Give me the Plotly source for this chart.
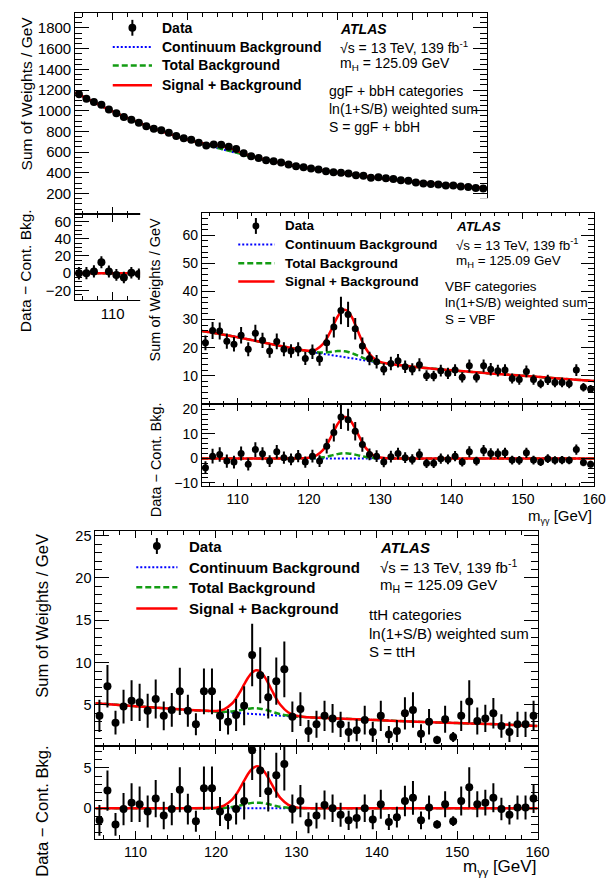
import plotly.graph_objects as go

W, H = 614, 880
FONT = "Liberation Sans"

# ---------------------------------------------------------------------------
# Binned diphoton mass spectra (1 GeV bins from 105 to 160 GeV)
# ---------------------------------------------------------------------------
bin_centres = [105.5 + i for i in range(55)]

# ggF + bbH categories
ggf_data = [1160, 1115, 1084, 1058, 1013, 975, 940, 914, 885, 850,
            825, 812, 786, 755, 735, 719, 690, 665, 674, 671,
            652, 629, 588, 559, 543, 521, 511, 499, 480, 463,
            454, 441, 432, 415, 406, 400, 393, 377, 371, 352,
            358, 348, 339, 329, 323, 307, 297, 291, 288, 278,
            278, 268, 262, 252, 249]
ggf_err = [7.0, 6.9, 6.8, 6.7, 6.6, 6.5, 6.4, 6.3, 6.2, 6.1,
           6.0, 5.9, 5.8, 5.7, 5.6, 5.5, 5.4, 5.3, 5.3, 5.3,
           5.2, 5.1, 5.0, 4.9, 4.8, 4.7, 4.7, 4.6, 4.5, 4.4,
           4.4, 4.3, 4.3, 4.2, 4.1, 4.1, 4.0, 4.0, 3.9, 3.8,
           3.8, 3.8, 3.7, 3.7, 3.6, 3.6, 3.5, 3.5, 3.5, 3.4,
           3.4, 3.4, 3.3, 3.3, 3.3]
# only the low-mass end of the ggF residual pad is left uncovered
ggf_res = [0.0, 0.0, 2.0, 12.6, 2.0, -2.0, -5.0, 0.5, -1.0]
ggf_res_err = [7.3, 7.2, 7.1, 7.0, 6.9, 6.8, 6.7, 6.6, 6.5]

# VBF categories
vbf_data = [21.7, 26.1, 25.9, 22.3, 21.2, 24.4, 19.4, 25.1, 22.6, 18.8,
            22.2, 19.4, 18.8, 19.4, 16.1, 18.5, 15.9, 21.7, 27.3, 33.2,
            31.8, 26.7, 20.6, 16.1, 15.0, 12.3, 14.3, 15.3, 13.2, 12.3,
            13.9, 10.0, 9.9, 11.8, 10.8, 12.0, 9.4, 13.5, 9.4, 13.5,
            12.3, 11.8, 12.0, 9.0, 8.6, 11.5, 8.6, 7.1, 8.5, 7.6,
            7.6, 7.1, 12.0, 5.9, 5.3]
vbf_err = [2.6, 3.0, 3.0, 2.7, 2.6, 2.9, 2.5, 3.0, 2.7, 2.4,
           2.8, 2.5, 2.4, 2.5, 2.3, 2.6, 2.4, 3.0, 3.7, 4.9,
           4.5, 3.8, 3.0, 2.4, 2.4, 2.1, 2.4, 2.4, 2.2, 2.1,
           2.3, 1.9, 1.9, 2.1, 2.0, 2.1, 1.8, 2.3, 1.8, 2.3,
           2.2, 2.1, 2.1, 1.8, 1.8, 2.1, 1.8, 1.6, 1.8, 1.7,
           1.7, 1.6, 2.1, 1.5, 1.4]
vbf_res = [-3.8, 0.9, 1.6, -1.1, -1.5, 2.0, -2.4, 3.6, 1.9, -1.1,
           2.7, 0.3, -0.4, 0.9, -1.5, 0.9, -1.1, 5.0, 10.6, 16.9,
           15.8, 11.1, 5.7, 1.6, 0.9, -1.5, 0.7, 2.0, 0.3, -0.4,
           1.6, -2.0, -2.0, -0.1, -0.4, 0.9, -1.5, 2.7, -1.1, 3.2,
           2.0, 1.9, 2.3, -0.7, -0.8, 2.3, -0.7, -1.5, -0.1, -0.8,
           -0.7, -0.8, 3.6, -1.7, -2.4]

# ttH categories
tth_data = [3.7, 7.2, 2.9, 4.8, 5.5, 5.3, 4.3, 5.7, 3.7, 4.4,
            6.6, 4.3, 2.7, 6.6, 6.6, 3.7, 3.0, 3.8, 4.9, 10.9,
            8.5, 5.9, 7.8, 9.2, 3.6, 4.5, 1.9, 2.7, 3.7, 3.4,
            2.7, 1.8, 2.0, 3.2, 1.8, 3.7, 1.5, 1.9, 4.0, 4.4,
            1.6, 3.0, 0.86, 3.3, 1.2, 3.7, 5.4, 3.1, 3.4, 4.0,
            2.5, 1.8, 2.7, 2.7, 3.7]
tth_err = [1.9, 2.5, 1.4, 2.0, 2.4, 2.2, 2.0, 2.3, 1.7, 2.0,
           2.8, 1.9, 1.3, 2.7, 2.7, 1.8, 1.5, 1.9, 2.3, 3.7,
           3.3, 2.5, 2.8, 3.3, 1.8, 2.0, 1.3, 1.6, 1.8, 1.7,
           1.5, 1.2, 1.3, 1.7, 1.2, 1.8, 1.0, 1.3, 1.9, 2.1,
           1.1, 1.5, 0.5, 1.6, 0.6, 1.8, 2.5, 1.6, 1.6, 1.8,
           1.4, 1.2, 1.5, 1.5, 1.8]
tth_res = [-1.5, 2.2, -2.0, -0.1, 0.7, 0.5, -0.4, 1.2, -0.9, -0.1,
           2.3, -0.1, -1.6, 2.5, 2.5, -0.4, -1.1, -0.1, 0.9, 7.2,
           4.7, 2.1, 4.1, 5.5, -0.1, 0.9, -1.8, -0.9, 0.4, 0.0,
           -0.8, -1.5, -1.2, 0.0, -1.4, 0.5, -1.7, -1.1, 0.9, 1.3,
           -1.5, 0.1, -2.0, 0.5, -1.6, 0.9, 2.6, 0.5, 0.7, 1.3,
           -0.1, -0.8, 0.1, 0.1, 1.2]

# ---------------------------------------------------------------------------
# Fitted model curves, sampled in m_gg
# cont: continuum background; tot_res: total bkg - continuum;
# sb_res: signal + background - continuum
# ---------------------------------------------------------------------------
curve_m = [105, 110, 115, 119, 120, 121, 122, 122.5, 123, 123.5,
           124, 124.5, 125, 125.5, 126, 126.5, 127, 127.5, 128, 129,
           130, 131, 135, 140, 145, 150, 155, 160]

ggf_cont = [1177, 993, 842, 742, 722, 700, 679, 669, 659, 649,
            639, 629, 620, 611, 602, 593, 584, 575, 566, 549,
            532, 517, 460, 402, 355, 315, 281, 250]
ggf_tot_res = [0, 0, 0, 0.01, 0.06, 0.2, 0.63, 1.03, 1.5, 2.0,
               2.5, 2.86, 3.0, 2.93, 2.64, 2.2, 1.7, 1.2, 0.79, 0.29,
               0.07, 0.01, 0, 0, 0, 0, 0, 0]
ggf_sb_res = [0, 0, 0, 0.1, 0.45, 2.0, 6.2, 9.9, 14.6, 19.7,
              24.7, 28.2, 30.0, 29.3, 26.3, 21.7, 16.5, 11.5, 7.5, 2.5,
              0.6, 0.1, 0, 0, 0, 0, 0, 0]

vbf_cont = [25.9, 23.7, 21.1, 19.1, 18.6, 18.2, 17.8, 17.6, 17.4, 17.2,
            17.0, 16.8, 16.6, 16.4, 16.2, 16.0, 15.8, 15.6, 15.4, 15.0,
            14.6, 14.3, 13.1, 11.9, 10.9, 10.0, 9.0, 8.1]
vbf_tot_res = [0, 0, 0, 0.01, 0.04, 0.14, 0.44, 0.72, 1.05, 1.4,
               1.75, 2.0, 2.1, 2.05, 1.85, 1.55, 1.2, 0.85, 0.55, 0.2,
               0.05, 0.01, 0, 0, 0, 0, 0, 0]
vbf_sb_res = [0, 0, 0, 0.05, 0.25, 1.1, 3.5, 5.6, 8.2, 11.1,
              13.9, 15.9, 16.9, 16.5, 14.8, 12.2, 9.3, 6.5, 4.2, 1.4,
              0.35, 0.06, 0, 0, 0, 0, 0, 0]

tth_cont = [5.2, 4.85, 4.5, 4.27, 4.2, 4.14, 4.08, 4.05, 4.02, 3.99,
            3.96, 3.93, 3.9, 3.87, 3.84, 3.81, 3.78, 3.75, 3.72, 3.66,
            3.6, 3.56, 3.4, 3.2, 3.0, 2.85, 2.7, 2.5]
tth_tot_res = [0, 0, 0, 0, 0.01, 0.05, 0.15, 0.24, 0.35, 0.47,
               0.58, 0.67, 0.7, 0.68, 0.62, 0.52, 0.4, 0.28, 0.18, 0.07,
               0.02, 0, 0, 0, 0, 0, 0, 0]
tth_sb_res = [0, 0, 0, 0.02, 0.08, 0.34, 1.08, 1.72, 2.53, 3.42,
              4.28, 4.9, 5.2, 5.08, 4.56, 3.76, 2.86, 2.0, 1.29, 0.43,
              0.11, 0.02, 0, 0, 0, 0, 0, 0]

legend_labels = ["Data", "Continuum Background", "Total Background", "Signal + Background"]

BLUE = "#0000ff"
GREEN = "#139c13"
RED = "#ff0000"


def fx(px):
    return px / W


def fy(py):
    return 1 - py / H


fig = go.Figure()
layout = dict(width=W, height=H, margin=dict(l=0, r=0, t=0, b=0),
              paper_bgcolor="white", plot_bgcolor="white", showlegend=False,
              autosize=False)
shapes = []
annotations = []


def add_axes(idx, xdom, ydom, xrange, yrange, ydtick, yminor, xlabels,
             fsize, xlen=7, ylen=13, ymirror="allticks"):
    xa = "xaxis" if idx == 1 else f"xaxis{idx}"
    ya = "yaxis" if idx == 1 else f"yaxis{idx}"
    tag = "" if idx == 1 else str(idx)
    common = dict(ticks="inside", tickwidth=1, tickcolor="black",
                  showline=True, linecolor="black", linewidth=1,
                  showgrid=False, zeroline=False,
                  fixedrange=True, tickmode="linear", tick0=0,
                  tickfont=dict(family=FONT, size=fsize, color="black"))
    layout[xa] = dict(common, domain=[fx(xdom[0]), fx(xdom[1])],
                      range=xrange, dtick=10, ticklen=xlen, mirror="allticks",
                      minor=dict(ticks="inside", ticklen=xlen / 2, dtick=2,
                                 tick0=0, tickcolor="black", tickwidth=1),
                      showticklabels=xlabels, anchor="y" + tag)
    layout[ya] = dict(common, domain=[fy(ydom[1]), fy(ydom[0])],
                      range=yrange, dtick=ydtick, ticklen=ylen, mirror=ymirror,
                      minor=dict(ticks="inside", ticklen=ylen / 2,
                                 dtick=yminor, tick0=0, tickcolor="black",
                                 tickwidth=1),
                      showticklabels=True, anchor="x" + tag)
    return "x" + tag, "y" + tag


def add_curves(xa, ya, base, tot_res, sb_res, width=2.5):
    cont = base
    tot = [b + t for b, t in zip(base, tot_res)]
    sb = [b + s for b, s in zip(base, sb_res)]
    fig.add_trace(go.Scatter(x=curve_m, y=cont, mode="lines", xaxis=xa, yaxis=ya,
                             line=dict(color=BLUE, width=2, dash="2px,2px", shape="spline"),
                             hoverinfo="skip"))
    fig.add_trace(go.Scatter(x=curve_m, y=tot, mode="lines", xaxis=xa, yaxis=ya,
                             line=dict(color=GREEN, width=width, dash="6px,3px", shape="spline"),
                             hoverinfo="skip"))
    fig.add_trace(go.Scatter(x=curve_m, y=sb, mode="lines", xaxis=xa, yaxis=ya,
                             line=dict(color=RED, width=width, shape="spline"),
                             hoverinfo="skip"))


def add_points(xa, ya, xs, ys, errs, size):
    fig.add_trace(go.Scatter(x=xs, y=ys, mode="markers", xaxis=xa, yaxis=ya,
                             marker=dict(color="black", size=size, symbol="circle"),
                             error_y=dict(type="data", array=errs, visible=True,
                                          thickness=2, width=0, color="black"),
                             hoverinfo="skip"))


def text(x, y, s, size, xanchor="left", yanchor="middle", angle=0):
    annotations.append(dict(x=fx(x), y=fy(y), xref="paper", yref="paper", text=s,
                            showarrow=False, xanchor=xanchor, yanchor=yanchor,
                            textangle=angle,
                            font=dict(family=FONT, size=size, color="black")))


def legend(xm, xl0, xl1, xt, rows, size, msize):
    r = msize / 2
    ym = rows[0]
    shapes.append(dict(type="line", xref="paper", yref="paper",
                       x0=fx(xm), x1=fx(xm), y0=fy(ym - 8), y1=fy(ym + 8),
                       line=dict(color="black", width=2)))
    shapes.append(dict(type="circle", xref="paper", yref="paper",
                       x0=fx(xm - r), x1=fx(xm + r), y0=fy(ym + r), y1=fy(ym - r),
                       fillcolor="black", line=dict(color="black", width=0)))
    styles = [dict(color=BLUE, width=2, dash="2px,2px"),
              dict(color=GREEN, width=2.5, dash="6px,3px"),
              dict(color=RED, width=2.5)]
    for yy, st in zip(rows[1:], styles):
        shapes.append(dict(type="line", xref="paper", yref="paper",
                           x0=fx(xl0), x1=fx(xl1), y0=fy(yy), y1=fy(yy), line=st))
    for yy, lab in zip(rows, legend_labels):
        text(xt, yy, "<b>" + lab + "</b>", size)


def info(x_top, x_cat, rows, cat_lines, size):
    text(x_top, rows[0], "<b><i>ATLAS</i></b>", size)
    text(x_top, rows[1], "\u221As = 13 TeV, 139 fb<sup>-1</sup>", size)
    text(x_top, rows[2], "m<sub>H</sub> = 125.09 GeV", size)
    for yy, s in zip(rows[3:], cat_lines):
        text(x_cat, yy, s, size)


# ---------------------------- ggF + bbH panel -------------------------------
GX = (76.7, 496.7)
xa1, ya1 = add_axes(1, GX, (9.5, 212), [105, 160], [1, 1941], 200, 50, False, 15,
                    xlen=7, ylen=14)
# residual pad: only its low-mass end (up to the VBF canvas edge) is drawn
GX_RES = (76.7, 143.5)
ggf_res_xmax = 105 + (GX_RES[1] - GX[0]) / (GX[1] - GX[0]) * 55
xa2, ya2 = add_axes(2, GX_RES, (212, 298.3), [105, ggf_res_xmax], [-30.7, 68.7], 20, 5,
                    True, 15, xlen=8, ylen=14, ymirror=False)
add_curves(xa1, ya1, ggf_cont, ggf_tot_res, ggf_sb_res)
add_points(xa1, ya1, bin_centres, ggf_data, ggf_err, 8)
add_curves(xa2, ya2, [0] * len(curve_m), ggf_tot_res, ggf_sb_res)
add_points(xa2, ya2, bin_centres[:len(ggf_res)], ggf_res, ggf_res_err, 8)

# blank canvas that the VBF pad sits on (hides the ggF pad underneath)
layout["xaxis3"] = dict(domain=[fx(143), 1], range=[0, 1], visible=False,
                        fixedrange=True, anchor="y3")
layout["yaxis3"] = dict(domain=[fy(320), fy(196)], range=[0, 1], visible=False,
                        fixedrange=True, anchor="x3")
fig.add_trace(go.Scatter(x=[], y=[], xaxis="x3", yaxis="y3", hoverinfo="skip"))

# ------------------------------- VBF panel ---------------------------------
VX = (205.9, 606)
xa4, ya4 = add_axes(4, VX, (211, 403.3), [105, 160], [0.05, 67.9], 10, 2, False, 14,
                    xlen=6, ylen=13)
xa5, ya5 = add_axes(5, VX, (403.3, 486.7), [105, 160], [-11.4, 22.4], 10, 2, True, 14,
                    xlen=7, ylen=13)
add_curves(xa4, ya4, vbf_cont, vbf_tot_res, vbf_sb_res)
add_points(xa4, ya4, bin_centres, vbf_data, vbf_err, 7)
add_curves(xa5, ya5, [0] * len(curve_m), vbf_tot_res, vbf_sb_res)
add_points(xa5, ya5, bin_centres, vbf_res, vbf_err, 7)

# ------------------------------- ttH panel ---------------------------------
TX = (97.3, 548.3)
xa6, ya6 = add_axes(6, TX, (532.3, 749.3), [105, 160], [0.08, 25.5], 5, 1, False, 14.5,
                    xlen=7, ylen=14)
xa7, ya7 = add_axes(7, TX, (749.3, 842.3), [105, 160], [-3.77, 7.67], 5, 1, True, 14.5,
                    xlen=8, ylen=14)
add_curves(xa6, ya6, tth_cont, tth_tot_res, tth_sb_res)
add_points(xa6, ya6, bin_centres, tth_data, tth_err, 8)
add_curves(xa7, ya7, [0] * len(curve_m), tth_tot_res, tth_sb_res)
add_points(xa7, ya7, bin_centres, tth_res, tth_err, 8)

# ------------------------------ legends & text -----------------------------
legend(135, 115, 155, 163, [24, 43.5, 62, 82], 14, 8)
info(345, 334, [25, 43.3, 61, 87.3, 106, 124],
     ["ggF + bbH categories", "ln(1+S/B) weighted sum", "S = ggF + bbH"], 14)

legend(261, 243, 280, 289, [224, 242.7, 261.7, 280], 13.4, 7)
info(462.7, 451.7, [225, 242.7, 260, 285, 301.7, 318.3],
     ["VBF categories", "ln(1+S/B) weighted sum", "S = VBF"], 13.4)

legend(160, 139, 181, 191, [547, 568.3, 588.7, 610], 15, 8)
info(386, 374, [548, 568, 587.3, 616, 635, 653.3],
     ["ttH categories", "ln(1+S/B) weighted sum", "S = ttH"], 15)

# axis titles
text(27, 10, "Sum of Weights / GeV", 15.5, "center", "top", -90)
text(26, 205, "Data \u2212 Cont. Bkg.", 15.5, "center", "top", -90)
text(158.5, 213, "Sum of Weights / GeV", 14.5, "center", "top", -90)
text(158.5, 400, "Data \u2212 Cont. Bkg.", 14.5, "center", "top", -90)
text(43.5, 533, "Sum of Weights / GeV", 16.6, "center", "top", -90)
text(44, 747, "Data \u2212 Cont. Bkg.", 16.6, "center", "top", -90)
text(606, 517, "m<sub><span style='font-size:9px'>\u03b3\u03b3</span></sub> [GeV]",
     15, "right", "middle")
text(548.3, 871, "m<sub><span style='font-size:11px'>\u03b3\u03b3</span></sub> [GeV]",
     17, "right", "middle")

layout["shapes"] = shapes
layout["annotations"] = annotations
fig.update_layout(**layout)
fig.write_html("out.html")
